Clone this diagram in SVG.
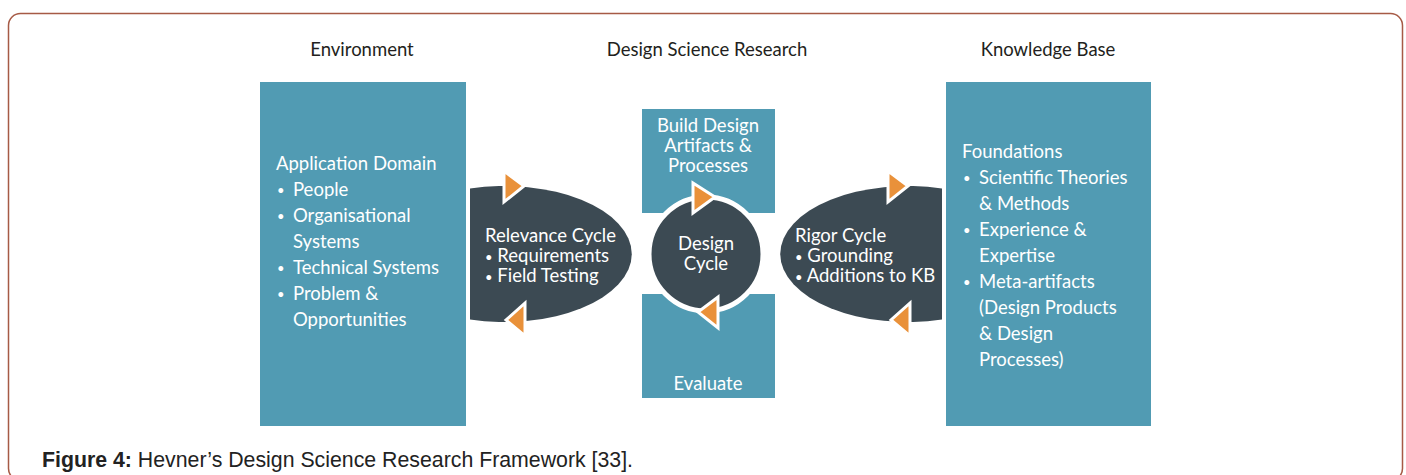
<svg xmlns="http://www.w3.org/2000/svg" width="1406" height="475" viewBox="0 0 1406 475">
<style>
.hdr{font-family:Lato,"Open Sans","Liberation Sans",sans-serif;font-size:18.5px;fill:#231f20}
.box{fill:#519bb3}
.dark{fill:#3c4a53}
.wt{font-family:Lato,"Open Sans","Liberation Sans",sans-serif;font-size:18.5px;fill:#ffffff}
.b{font-size:13px}
.tri{fill:#e9913a;stroke:#ffffff;stroke-width:3;stroke-linejoin:miter}
.cap{font-family:"Liberation Sans",Arial,sans-serif;font-size:21.3px;fill:#222222}
</style>
<rect x="0" y="0" width="1406" height="475" fill="#ffffff"/>
<rect x="8.5" y="13.5" width="1394" height="467" rx="12" ry="12" fill="none" stroke="#a65a45" stroke-width="1.5"/>

<g id="headers">
<text class="hdr" x="362" y="56" text-anchor="middle">Environment</text>
<text class="hdr" x="707" y="56" text-anchor="middle">Design Science Research</text>
<text class="hdr" x="1048" y="56" text-anchor="middle">Knowledge Base</text>
</g>

<g id="environment">
<rect class="box" x="260" y="82" width="206" height="344"/>
<text class="wt" x="276" y="170">Application Domain</text>
<text class="wt b" x="277" y="195">•</text><text class="wt" x="293" y="196">People</text>
<text class="wt b" x="277" y="221">•</text><text class="wt" x="293" y="222">Organisational</text>
<text class="wt" x="293" y="248">Systems</text>
<text class="wt b" x="277" y="273">•</text><text class="wt" x="293" y="274">Technical Systems</text>
<text class="wt b" x="277" y="299">•</text><text class="wt" x="293" y="300">Problem &amp;</text>
<text class="wt" x="293" y="326">Opportunities</text>
</g>

<g id="knowledge-base">
<rect class="box" x="946" y="82" width="205" height="344"/>
<text class="wt" x="962" y="158">Foundations</text>
<text class="wt b" x="963" y="183">•</text><text class="wt" x="979" y="184">Scientific Theories</text>
<text class="wt" x="979" y="210">&amp; Methods</text>
<text class="wt b" x="963" y="235">•</text><text class="wt" x="979" y="236">Experience &amp;</text>
<text class="wt" x="979" y="262">Expertise</text>
<text class="wt b" x="963" y="287">•</text><text class="wt" x="979" y="288">Meta-artifacts</text>
<text class="wt" x="979" y="314">(Design Products</text>
<text class="wt" x="979" y="340">&amp; Design</text>
<text class="wt" x="979" y="366">Processes)</text>
</g>

<g id="build">
<rect class="box" x="642" y="109" width="133" height="104"/>
<text class="wt" x="708" y="132" text-anchor="middle">Build Design</text>
<text class="wt" x="708" y="152" text-anchor="middle">Artifacts &amp;</text>
<text class="wt" x="708" y="172" text-anchor="middle">Processes</text>
</g>

<g id="evaluate">
<rect class="box" x="642" y="294" width="133" height="104"/>
<text class="wt" x="708" y="390" text-anchor="middle">Evaluate</text>
</g>

<g id="relevance-cycle">
<path class="dark" d="M470,188.6 A127,68 0 1,1 470,319.4 Z"/>
<text class="wt" x="485" y="242">Relevance Cycle</text>
<text class="wt" x="485" y="262"><tspan class="b">•</tspan> Requirements</text>
<text class="wt" x="485" y="282"><tspan class="b">•</tspan> Field Testing</text>
</g>

<g id="rigor-cycle">
<path class="dark" d="M942,188.6 A127,68 0 1,0 942,319.4 Z"/>
<text class="wt" x="795" y="242">Rigor Cycle</text>
<text class="wt" x="795" y="262"><tspan class="b">•</tspan> Grounding</text>
<text class="wt" x="795" y="282"><tspan class="b">•</tspan> Additions to KB</text>
</g>

<g id="design-cycle">
<circle class="dark" cx="706" cy="254" r="57" stroke="#ffffff" stroke-width="5"/>
<text class="wt" x="706" y="250" text-anchor="middle">Design</text>
<text class="wt" x="706" y="270" text-anchor="middle">Cycle</text>
</g>

<g id="connectors">
<polygon class="tri" points="504,171 504,202 524,186"/>
<polygon class="tri" points="525,303 525,336 506,320"/>
<polygon class="tri" points="693,183 693,213 715,197"/>
<polygon class="tri" points="718,297 718,328 698,312"/>
<polygon class="tri" points="888,171 888,202 908,186"/>
<polygon class="tri" points="910,303 910,336 891,320"/>
</g>

<g id="caption">
<text class="cap" x="42" y="467"><tspan font-weight="bold">Figure 4:</tspan> Hevner’s Design Science Research Framework [33].</text>
</g>
</svg>
